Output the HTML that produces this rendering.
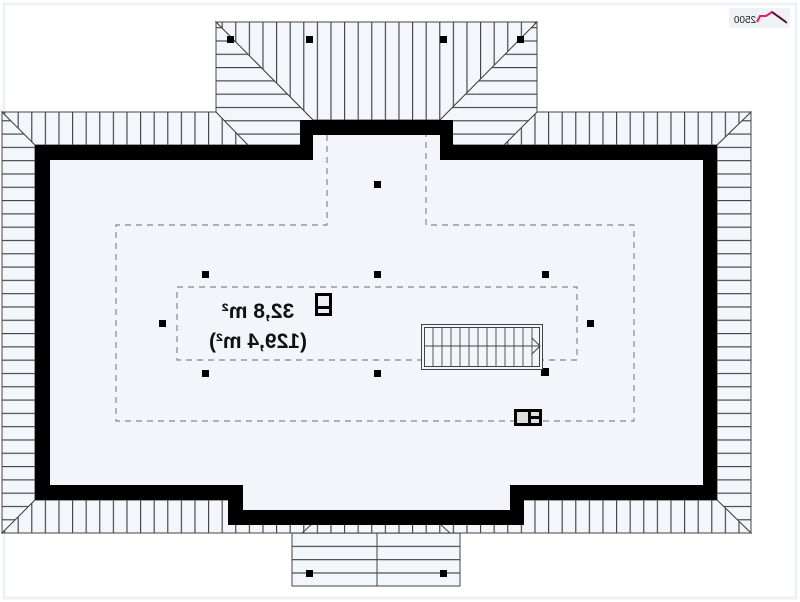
<!DOCTYPE html>
<html><head><meta charset="utf-8"><style>
html,body{margin:0;padding:0;background:#fff;}
svg{display:block;}
</style></head><body>
<svg width="800" height="602" viewBox="0 0 800 602" xmlns="http://www.w3.org/2000/svg">
<defs>
<pattern id="hz" width="10" height="13.3" patternUnits="userSpaceOnUse" y="0.5">
<rect width="10" height="13.3" fill="#f3f6fb"/><line x1="0" y1="0.5" x2="10" y2="0.5" stroke="#444" stroke-width="1.3"/></pattern>
<pattern id="vt" width="13.6" height="10" patternUnits="userSpaceOnUse" x="4">
<rect width="13.6" height="10" fill="#f3f6fb"/><line x1="0.5" y1="0" x2="0.5" y2="10" stroke="#444" stroke-width="1.3"/></pattern>
</defs>
<rect width="800" height="602" fill="#fff"/>
<rect x="4" y="4" width="792" height="594" fill="none" stroke="#eef1f7" stroke-width="3"/>
<g stroke="#444" stroke-width="1">
<polygon points="2,112 35,145 35,500 2,533" fill="url(#hz)"/>
<polygon points="751,112 751,533 717,500 717,145" fill="url(#hz)"/>
<polygon points="2,112 216,112 248,145 35,145" fill="url(#vt)"/>
<polygon points="537,112 751,112 717,145 504,145" fill="url(#vt)"/>
<polygon points="2,533 751,533 717,500 35,500" fill="url(#vt)"/>
<polygon points="216,22 537,22 440,120 313,120" fill="url(#vt)"/>
<polygon points="216,22 313,120 300,145 248,145 216,112" fill="url(#hz)"/>
<polygon points="537,22 537,112 504,145 453,145 440,120" fill="url(#hz)"/>
<rect x="292" y="533" width="168" height="53" fill="url(#hz)"/>
<line x1="377" y1="533" x2="377" y2="586"/>
<line x1="302" y1="533" x2="312" y2="524"/><line x1="450" y1="533" x2="440" y2="524"/>
</g>
<polygon points="35,145 300,145 300,120 453,120 453,145 717,145 717,500 524,500 524,525 228,525 228,500 35,500" fill="#000"/>
<polygon points="50,160 313,160 313,135 440,135 440,160 703,160 703,485 510,485 510,510 243,510 243,485 50,485" fill="#f3f5fa"/>
<g fill="none" stroke="#888" stroke-width="1.2" stroke-dasharray="6,5">
<polyline points="327,135 327,225 116,225 116,421 634,421 634,225 426,225 426,135"/>
<rect x="177" y="287" width="400" height="73"/>
</g>
<g fill="#000">
<rect x="227" y="36" width="7" height="7"/><rect x="306" y="36" width="7" height="7"/>
<rect x="440" y="36" width="7" height="7"/><rect x="517" y="36" width="7" height="7"/>
<rect x="374" y="181" width="7" height="7"/>
<rect x="202" y="271" width="7" height="7"/><rect x="374" y="271" width="7" height="7"/><rect x="542" y="271" width="7" height="7"/>
<rect x="159" y="320" width="7" height="7"/><rect x="587" y="320" width="7" height="7"/>
<rect x="202" y="370" width="7" height="7"/><rect x="374" y="370" width="7" height="7"/><rect x="541" y="368" width="8" height="8"/>
<rect x="306" y="570" width="7" height="7"/><rect x="440" y="570" width="7" height="7"/>
</g>
<g fill="none" stroke="#444" stroke-width="1">
<rect x="421.5" y="324.5" width="121" height="45" fill="#f3f5fa"/>
<rect x="424.5" y="327.5" width="115" height="39"/>
<g stroke-width="0.9">
<line x1="433" y1="328" x2="433" y2="366"/><line x1="442" y1="328" x2="442" y2="366"/><line x1="451" y1="328" x2="451" y2="366"/><line x1="460" y1="328" x2="460" y2="366"/><line x1="469" y1="328" x2="469" y2="366"/><line x1="478" y1="328" x2="478" y2="366"/><line x1="487" y1="328" x2="487" y2="366"/><line x1="496" y1="328" x2="496" y2="366"/><line x1="505" y1="328" x2="505" y2="366"/><line x1="514" y1="328" x2="514" y2="366"/><line x1="523" y1="328" x2="523" y2="366"/><line x1="532" y1="328" x2="532" y2="366"/>
</g>
<line x1="425" y1="346" x2="540" y2="346"/>
<polyline points="532,338 540,346 532,354"/>
</g>
<rect x="315" y="293" width="17" height="23" fill="#000"/>
<rect x="318" y="296" width="11" height="10" fill="#eee"/><rect x="318" y="309" width="11" height="4" fill="#eee"/>
<rect x="514" y="409" width="28" height="17" fill="#000"/>
<rect x="517" y="412" width="11" height="11" fill="#ddd"/>
<rect x="531" y="412" width="8" height="4" fill="#ddd"/><rect x="531" y="419" width="8" height="4" fill="#ddd"/>
<g transform="translate(516,0) scale(-1,1)" font-family="Liberation Sans, sans-serif" font-size="21" font-weight="bold" fill="#111" text-anchor="middle">
<text x="258" y="318">32,8 m²</text>
<text x="258" y="348">(129,4 m²)</text>
</g>
<rect x="729" y="8" width="61" height="20" fill="#f0f2f6"/>
<g transform="translate(1490,0) scale(-1,1)">
<text x="745" y="23" font-family="Liberation Sans, sans-serif" font-size="10" fill="#222" text-anchor="middle">2500</text>
</g>
<polyline points="757,22 760,16 766,16 772,12 786,22" fill="none" stroke="#e8197a" stroke-width="2"/>
<line x1="772" y1="12" x2="787" y2="23" stroke="#222" stroke-width="1.5"/>
</svg>
</body></html>
